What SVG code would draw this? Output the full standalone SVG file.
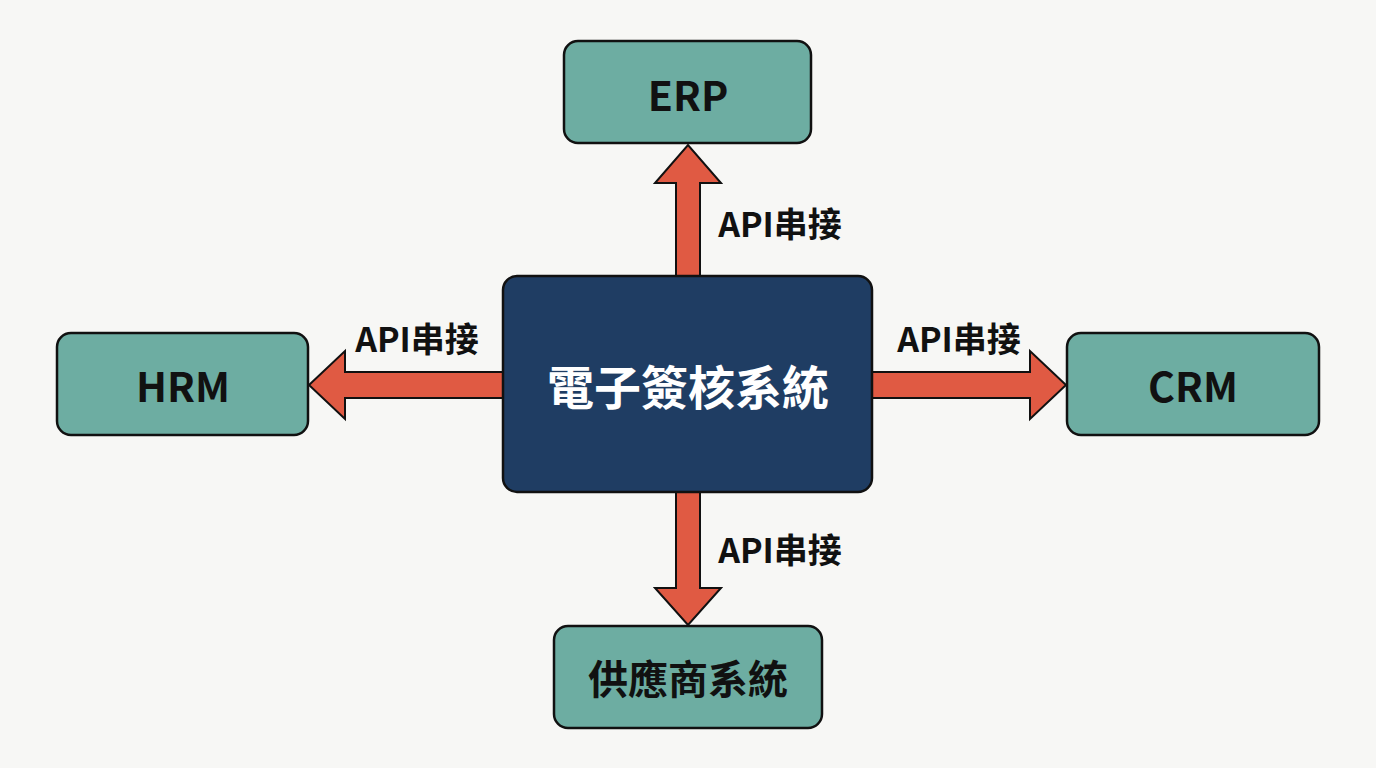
<svg xmlns="http://www.w3.org/2000/svg" width="1376" height="768" viewBox="0 0 1376 768">
<style>
.bg{fill:#f7f7f5}
.sys{fill:#6dada2;stroke:#111;stroke-width:2.5}
.core{fill:#1f3d63;stroke:#111;stroke-width:2.5}
.arr{fill:#e05a43;stroke:#111;stroke-width:2;stroke-linejoin:miter}
.t{font-family:"Noto Sans CJK TC","Noto Sans",sans-serif;font-weight:700;text-anchor:middle;dominant-baseline:central}
.nt{font-size:41px;fill:#111}
.ct{font-size:47px;fill:#fff}
.lb{font-size:34px;fill:#111}
</style>
<rect class="bg" x="0" y="0" width="1376" height="768"/>
<g id="connectors">
  <polygon class="arr" points="676,276 676,183 655,183 688,145 721,183 700,183 700,276"/>
  <polygon class="arr" points="503,372 345,372 345,351 309,385 345,419 345,398 503,398"/>
  <polygon class="arr" points="872,372 1030,372 1030,351 1066,385 1030,419 1030,398 872,398"/>
  <polygon class="arr" points="676,492 676,588 655,588 688,625 721,588 700,588 700,492"/>
  <text class="t lb" x="780" y="222">API串接</text>
  <text class="t lb" x="417" y="337">API串接</text>
  <text class="t lb" x="959" y="337">API串接</text>
  <text class="t lb" x="780" y="548">API串接</text>
</g>
<g id="core">
  <rect class="core" x="503" y="276" width="369" height="216" rx="14"/>
  <text class="t ct" x="688" y="384">電子簽核系統</text>
</g>
<g id="erp">
  <rect class="sys" x="564" y="41" width="247" height="102" rx="14"/>
  <text class="t nt" x="688" y="93">ERP</text>
</g>
<g id="hrm">
  <rect class="sys" x="57" y="333" width="251" height="102" rx="14"/>
  <text class="t nt" x="183" y="384">HRM</text>
</g>
<g id="crm">
  <rect class="sys" x="1067" y="333" width="252" height="102" rx="14"/>
  <text class="t nt" x="1193" y="384">CRM</text>
</g>
<g id="supplier">
  <rect class="sys" x="554" y="626" width="268" height="102" rx="14"/>
  <text class="t" style="font-size:40px;fill:#111" x="688" y="677">供應商系統</text>
</g>
</svg>
